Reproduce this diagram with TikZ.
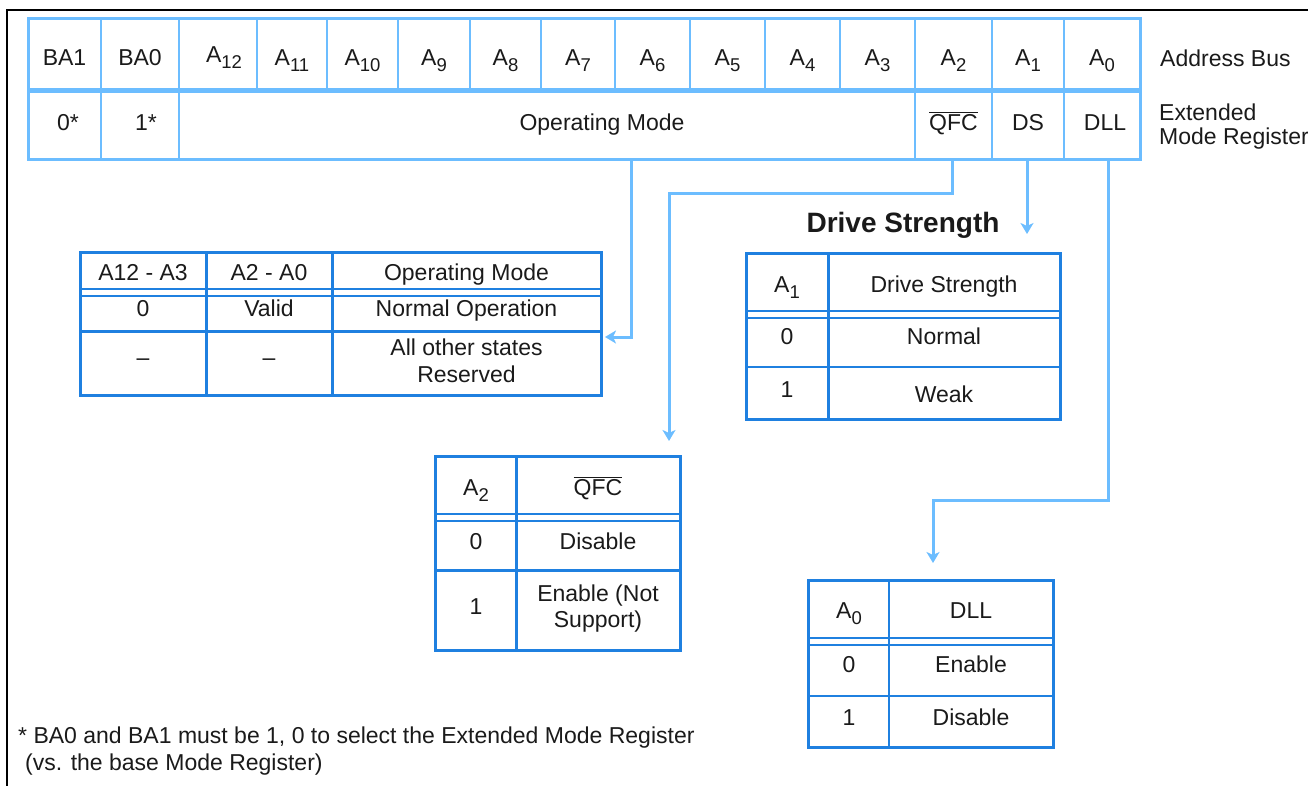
\documentclass[tikz,border=0pt]{standalone}
\usepackage{fontspec}
\setmainfont{Liberation Sans}
\usetikzlibrary{arrows.meta}
\definecolor{regblue}{HTML}{6CBDFF}
\definecolor{tabblue}{HTML}{1F80E0}
\definecolor{ink}{HTML}{1A1A1A}
\newcommand{\Asub}[1]{A\raisebox{-0.55ex}{\fontsize{18.5}{18.5}\selectfont #1}}
\newcommand{\QFCbar}{$\overline{\mbox{QFC}}$}
\tikzset{
  reg/.style={draw=regblue, line width=2pt},
  regthick/.style={draw=regblue, line width=3pt},
  conn/.style={draw=regblue, line width=3pt, -{Stealth[length=11pt,width=13pt,inset=3pt]}},
  tab/.style={draw=tabblue, line width=3pt},
  tabthin/.style={draw=tabblue, line width=2.2pt},
  lbl/.style={font=\fontsize{23}{27}\selectfont, text=ink, inner sep=0pt, anchor=base},
  lbll/.style={lbl, anchor=base west},
  title/.style={font=\fontsize{28}{32}\selectfont\bfseries, text=ink, inner sep=0pt, anchor=base},
}
\begin{document}
\begin{tikzpicture}[x=1pt,y=-1pt]
\useasboundingbox (0,0) rectangle (1308,785);
% outer frame (cropped)
\draw[black, line width=2pt] (7,790) -- (7,10) -- (1315,10);

% ---------------- register ----------------
\draw[regthick] (28,18) rectangle (1140,159);
\draw[regblue, line width=5pt] (28,90) -- (1140,90);
\foreach \x in {101,179,257,327,398,470,541,615,690,765,840,915,992,1064}
  \draw[reg] (\x,18) -- (\x,90);
\foreach \x in {101,179,915,992,1064}
  \draw[reg] (\x,90) -- (\x,159);

\node[lbl] (rBA1) at (64.5,65) {BA1};
\node[lbl] (rBA0) at (140,65) {BA0};
\node[lbl] (rA12) at (224,62) {\Asub{12}};
\node[lbl] (rA11) at (292,65) {\Asub{11}};
\node[lbl] (rA10) at (362.5,65) {\Asub{10}};
\node[lbl] (rA9) at (434,65) {\Asub{9}};
\node[lbl] (rA8) at (505.5,65) {\Asub{8}};
\node[lbl] (rA7) at (578,65) {\Asub{7}};
\node[lbl] (rA6) at (652.5,65) {\Asub{6}};
\node[lbl] (rA5) at (727.5,65) {\Asub{5}};
\node[lbl] (rA4) at (802.5,65) {\Asub{4}};
\node[lbl] (rA3) at (877.5,65) {\Asub{3}};
\node[lbl] (rA2) at (953.5,65) {\Asub{2}};
\node[lbl] (rA1) at (1028,65) {\Asub{1}};
\node[lbl] (rA0) at (1102,65) {\Asub{0}};

\node[lbl] (v0) at (68,130) {0*};
\node[lbl] (v1) at (146,130) {1*};
\node[lbl] (vOM) at (602,130) {Operating Mode};
\node[lbl] (vQFC) at (953.5,130) {\QFCbar};
\node[lbl] (vDS) at (1028,130) {DS};
\node[lbl] (vDLL) at (1105,130) {DLL};

\node[lbll] (addr) at (1160,66) {Address Bus};
\node[lbll] (ext1) at (1159,120) {Extended};
\node[lbll] (ext2) at (1159,144) {Mode Register};

% ---------------- connectors ----------------
\coordinate (sOM) at (631,159);
\coordinate (sQFC) at (952,159);
\coordinate (sDS) at (1027,159);
\coordinate (sDLL) at (1108,159);
\coordinate (eOM) at (605,337);
\coordinate (eQFC) at (669,441);
\coordinate (eDS) at (1027,234);
\coordinate (eDLL) at (933,563);
\draw[conn] (sOM) -- (631,337) -- (eOM);
\draw[conn] (sQFC) -- (952,193) -- (669,193) -- (eQFC);
\draw[conn] (sDS) -- (eDS);
\draw[conn] (sDLL) -- (1108,500) -- (933,500) -- (eDLL);

% ---------------- Operating Mode table ----------------
\draw[tab] (80,252) rectangle (601,395);
\draw[tab] (206,252) -- (206,395);
\draw[tab] (332,252) -- (332,395);
\draw[tabthin] (80,289) -- (601,289);
\draw[tabthin] (80,296) -- (601,296);
\draw[tab] (80,331) -- (601,331);
\node[lbl] (om11) at (143,280) {A12 - A3};
\node[lbl] (om12) at (269,280) {A2 - A0};
\node[lbl] (om13) at (466.5,280) {Operating Mode};
\node[lbl] (om21) at (143,316) {0};
\node[lbl] (om22) at (269,316) {Valid};
\node[lbl] (om23) at (466.5,316) {Normal Operation};
\node[lbl] (om31) at (143,365) {--};
\node[lbl] (om32) at (269,365) {--};
\node[lbl] (om33a) at (466.5,355) {All other states};
\node[lbl] (om33b) at (466.5,382) {Reserved};

% ---------------- Drive Strength table ----------------
\node[title] (dsT) at (903,232) {Drive Strength};
\draw[tab] (746,253) rectangle (1060,419);
\draw[tab] (828,253) -- (828,419);
\draw[tabthin] (746,311) -- (1060,311);
\draw[tabthin] (746,318) -- (1060,318);
\draw[tabthin] (746,367) -- (1060,367);
\node[lbl] (ds11) at (787,292) {\Asub{1}};
\node[lbl] (ds12) at (944,292) {Drive Strength};
\node[lbl] (ds21) at (787,344) {0};
\node[lbl] (ds22) at (944,344) {Normal};
\node[lbl] (ds31) at (787,397) {1};
\node[lbl] (ds32) at (944,402) {Weak};

% ---------------- QFC table ----------------
\draw[tab] (435,456) rectangle (680,650);
\draw[tab] (516,456) -- (516,650);
\draw[tabthin] (435,514) -- (680,514);
\draw[tabthin] (435,521) -- (680,521);
\draw[tab] (435,570) -- (680,570);
\node[lbl] (q11) at (476,495) {\Asub{2}};
\node[lbl] (q12) at (598,495) {\QFCbar};
\node[lbl] (q21) at (476,549) {0};
\node[lbl] (q22) at (598,549) {Disable};
\node[lbl] (q31) at (476,614) {1};
\node[lbl] (q32a) at (598,601) {Enable (Not};
\node[lbl] (q32b) at (598,627) {Support)};

% ---------------- DLL table ----------------
\draw[tab] (808,580) rectangle (1053,747);
\draw[tabthin] (889,580) -- (889,747);
\draw[tabthin] (808,638) -- (1053,638);
\draw[tabthin] (808,645) -- (1053,645);
\draw[tabthin] (808,696) -- (1053,696);
\node[lbl] (d11) at (849,618) {\Asub{0}};
\node[lbl] (d12) at (971,618) {DLL};
\node[lbl] (d21) at (849,672) {0};
\node[lbl] (d22) at (971,672) {Enable};
\node[lbl] (d31) at (849,725) {1};
\node[lbl] (d32) at (971,725) {Disable};

% ---------------- footnote ----------------
\node[lbll] (fn1) at (18,743) {* BA0 and BA1 must be 1, 0 to select the Extended Mode Register};
\node[lbll] (fn2) at (25,770) {(vs. the base Mode Register)};
\end{tikzpicture}
\end{document}
